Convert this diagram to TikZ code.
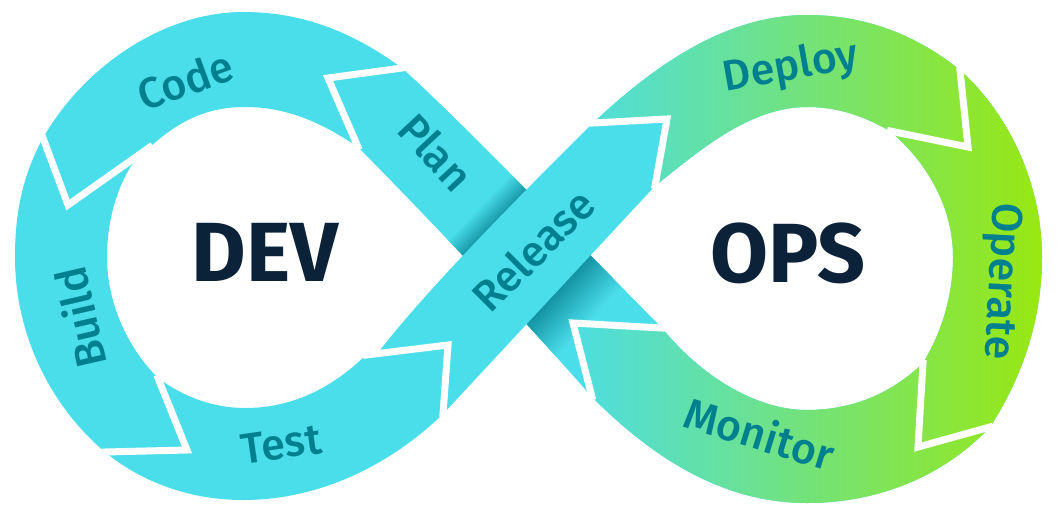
\documentclass[tikz,border=0pt]{standalone}
\usepackage{fontspec}
\setmainfont{Fira Sans}
\newfontfamily\labelfont{Fira Sans}[UprightFont={* Medium}]

\definecolor{bandcyan}{HTML}{4ADDEA}
\definecolor{bandgreen}{HTML}{9AE80F}
\definecolor{shadowteal}{HTML}{0E8C9C}
\definecolor{labelteal}{HTML}{00808E}
\definecolor{titlenavy}{HTML}{0B2239}

\tikzset{
  band/.style={fill=bandcyan},
  rightband/.style={fill=bandcyan,
    path picture={\shade[left color=bandcyan, middle color=bandcyan!70!bandgreen, right color=bandgreen]
      (554,12) rectangle (1046,504);}},
  gap/.style={draw=white, line width=7pt, line join=miter, shorten <=-3pt, shorten >=-3pt},
  lbl/.style={text=labelteal, font=\fontsize{43}{43}\labelfont},
  headword/.style={text=titlenavy, font=\fontsize{84}{84}\selectfont\bfseries}
}

\begin{document}
\begin{tikzpicture}[x=1pt, y=-1pt]
    \useasboundingbox (0,0) rectangle (1061,515);

    % chevron points
    \coordinate (o1) at (402,68);  \coordinate (v1) at (328,78);  \coordinate (i1) at (358,147);
    \coordinate (o2) at (43,138);  \coordinate (v2) at (68,205);  \coordinate (i2) at (150,147);
    \coordinate (j2) at (133,163);
    \coordinate (o3) at (105,452); \coordinate (v3) at (187,450); \coordinate (i3) at (158,378);
    \coordinate (i4) at (366,355); \coordinate (v4) at (448,345); \coordinate (o4) at (443,414);
    \coordinate (j4) at (377,354);
    \coordinate (a5) at (593,123); \coordinate (v5) at (667,119); \coordinate (b5) at (655,186);
    \coordinate (o6) at (960,70);  \coordinate (v6) at (968,147); \coordinate (i6) at (890,131);
    \coordinate (i7) at (923,363); \coordinate (v7) at (918,447); \coordinate (o7) at (990,427);
    \coordinate (i8) at (662,328); \coordinate (v8) at (573,323); \coordinate (o8) at (592,397);

    % code
    \path[band] (o1) .. controls (350,30) and (300,12) .. (243,12)
        .. controls (165,12) and (85,65) .. (o2) -- (v2) -- (i2)
        .. controls (185,115) and (215,107) .. (245,107)
        .. controls (290,107) and (325,125) .. (i1) -- (v1) -- cycle;
    % build
    \path[band] (o2) .. controls (20,180) and (15,220) .. (15,257)
        .. controls (15,340) and (55,410) .. (o3) -- (v3) -- (i3)
        .. controls (125,345) and (107,300) .. (107,257)
        .. controls (107,225) and (115,190) .. (j2) -- (v2) -- cycle;
    % test
    \path[band] (o3) .. controls (145,485) and (195,500) .. (243,500)
        .. controls (320,500) and (390,465) .. (o4) -- (v4) -- (i4)
        .. controls (330,390) and (290,408) .. (245,408)
        .. controls (215,408) and (185,398) .. (i3) -- (v3) -- cycle;
    % plan, with the shadow of release on it
    \path[band, path picture={
        \begin{scope}[transform canvas={shift={(494,223)}, rotate=46}]
            \shade[top color=bandcyan, bottom color=shadowteal] (-120,4) rectangle (120,-22);
        \end{scope}
        \begin{scope}[transform canvas={shift={(557,291)}, rotate=47}]
            \shade[top color=shadowteal, bottom color=bandcyan] (-120,-4) rectangle (120,44);
        \end{scope}}]
        (i8) .. controls (560,225) and (470,130) .. (o1) -- (v1) -- (i1)
        .. controls (430,220) and (520,315) .. (o8) -- (v8) -- cycle;

    % deploy
    \path[rightband] (a5) .. controls (660,60) and (730,15) .. (807,15)
        .. controls (870,15) and (920,38) .. (o6) -- (v6) -- (i6)
        .. controls (865,117) and (840,107) .. (807,107)
        .. controls (750,107) and (700,150) .. (b5) -- (v5) -- cycle;
    % operate
    \path[rightband] (o6) .. controls (1010,115) and (1042,185) .. (1042,257)
        .. controls (1042,320) and (1022,378) .. (o7) -- (v7) -- (i7)
        .. controls (942,332) and (953,295) .. (953,257)
        .. controls (953,210) and (930,165) .. (i6) -- (v6) -- cycle;
    % monitor
    \path[rightband] (o7) .. controls (945,475) and (880,503) .. (807,503)
        .. controls (720,503) and (650,455) .. (o8) -- (v8) -- (i8)
        .. controls (700,375) and (755,410) .. (807,410)
        .. controls (850,410) and (890,395) .. (i7) -- (v7) -- cycle;

    % release goes over plan
    \path[band] (j4) -- (v4) -- (o4) -- (b5) -- (v5) -- (a5)
        .. controls (500,215) and (420,298) .. (j4) -- cycle;

    % white gaps between the steps
    \draw[gap] (o1) -- (v1) -- (i1);
    \draw[gap] (o2) -- (v2) -- (i2);
    \draw[gap] (o3) -- (v3) -- (i3);
    \draw[gap] (i4) -- (v4) -- (o4);
    \draw[gap] (a5) -- (v5) -- (b5);
    \draw[gap] (o6) -- (v6) -- (i6);
    \draw[gap] (i7) -- (v7) -- (o7);
    \draw[gap] (i8) -- (v8) -- (o8);

    \node[lbl, rotate=20] (code) at (185,80) {Code};
    \node[lbl, rotate=-47] (plan) at (436,152) {Plan};
    \node[lbl, rotate=45] (release) at (533,250) {Release};
    \node[lbl, rotate=103] (build) at (80,318) {Build};
    \node[lbl, rotate=8] (test) at (281,444) {Test};
    \node[lbl, rotate=10] (deploy) at (791,68) {Deploy};
    \node[lbl, rotate=-93] (operate) at (1000,281) {Operate};
    \node[lbl, rotate=-17] (monitor) at (760,433) {Monitor};

    \node[headword] (dev) at (265,252) {DEV};
    \node[headword] (ops) at (788,253) {OPS};
\end{tikzpicture}
\end{document}
